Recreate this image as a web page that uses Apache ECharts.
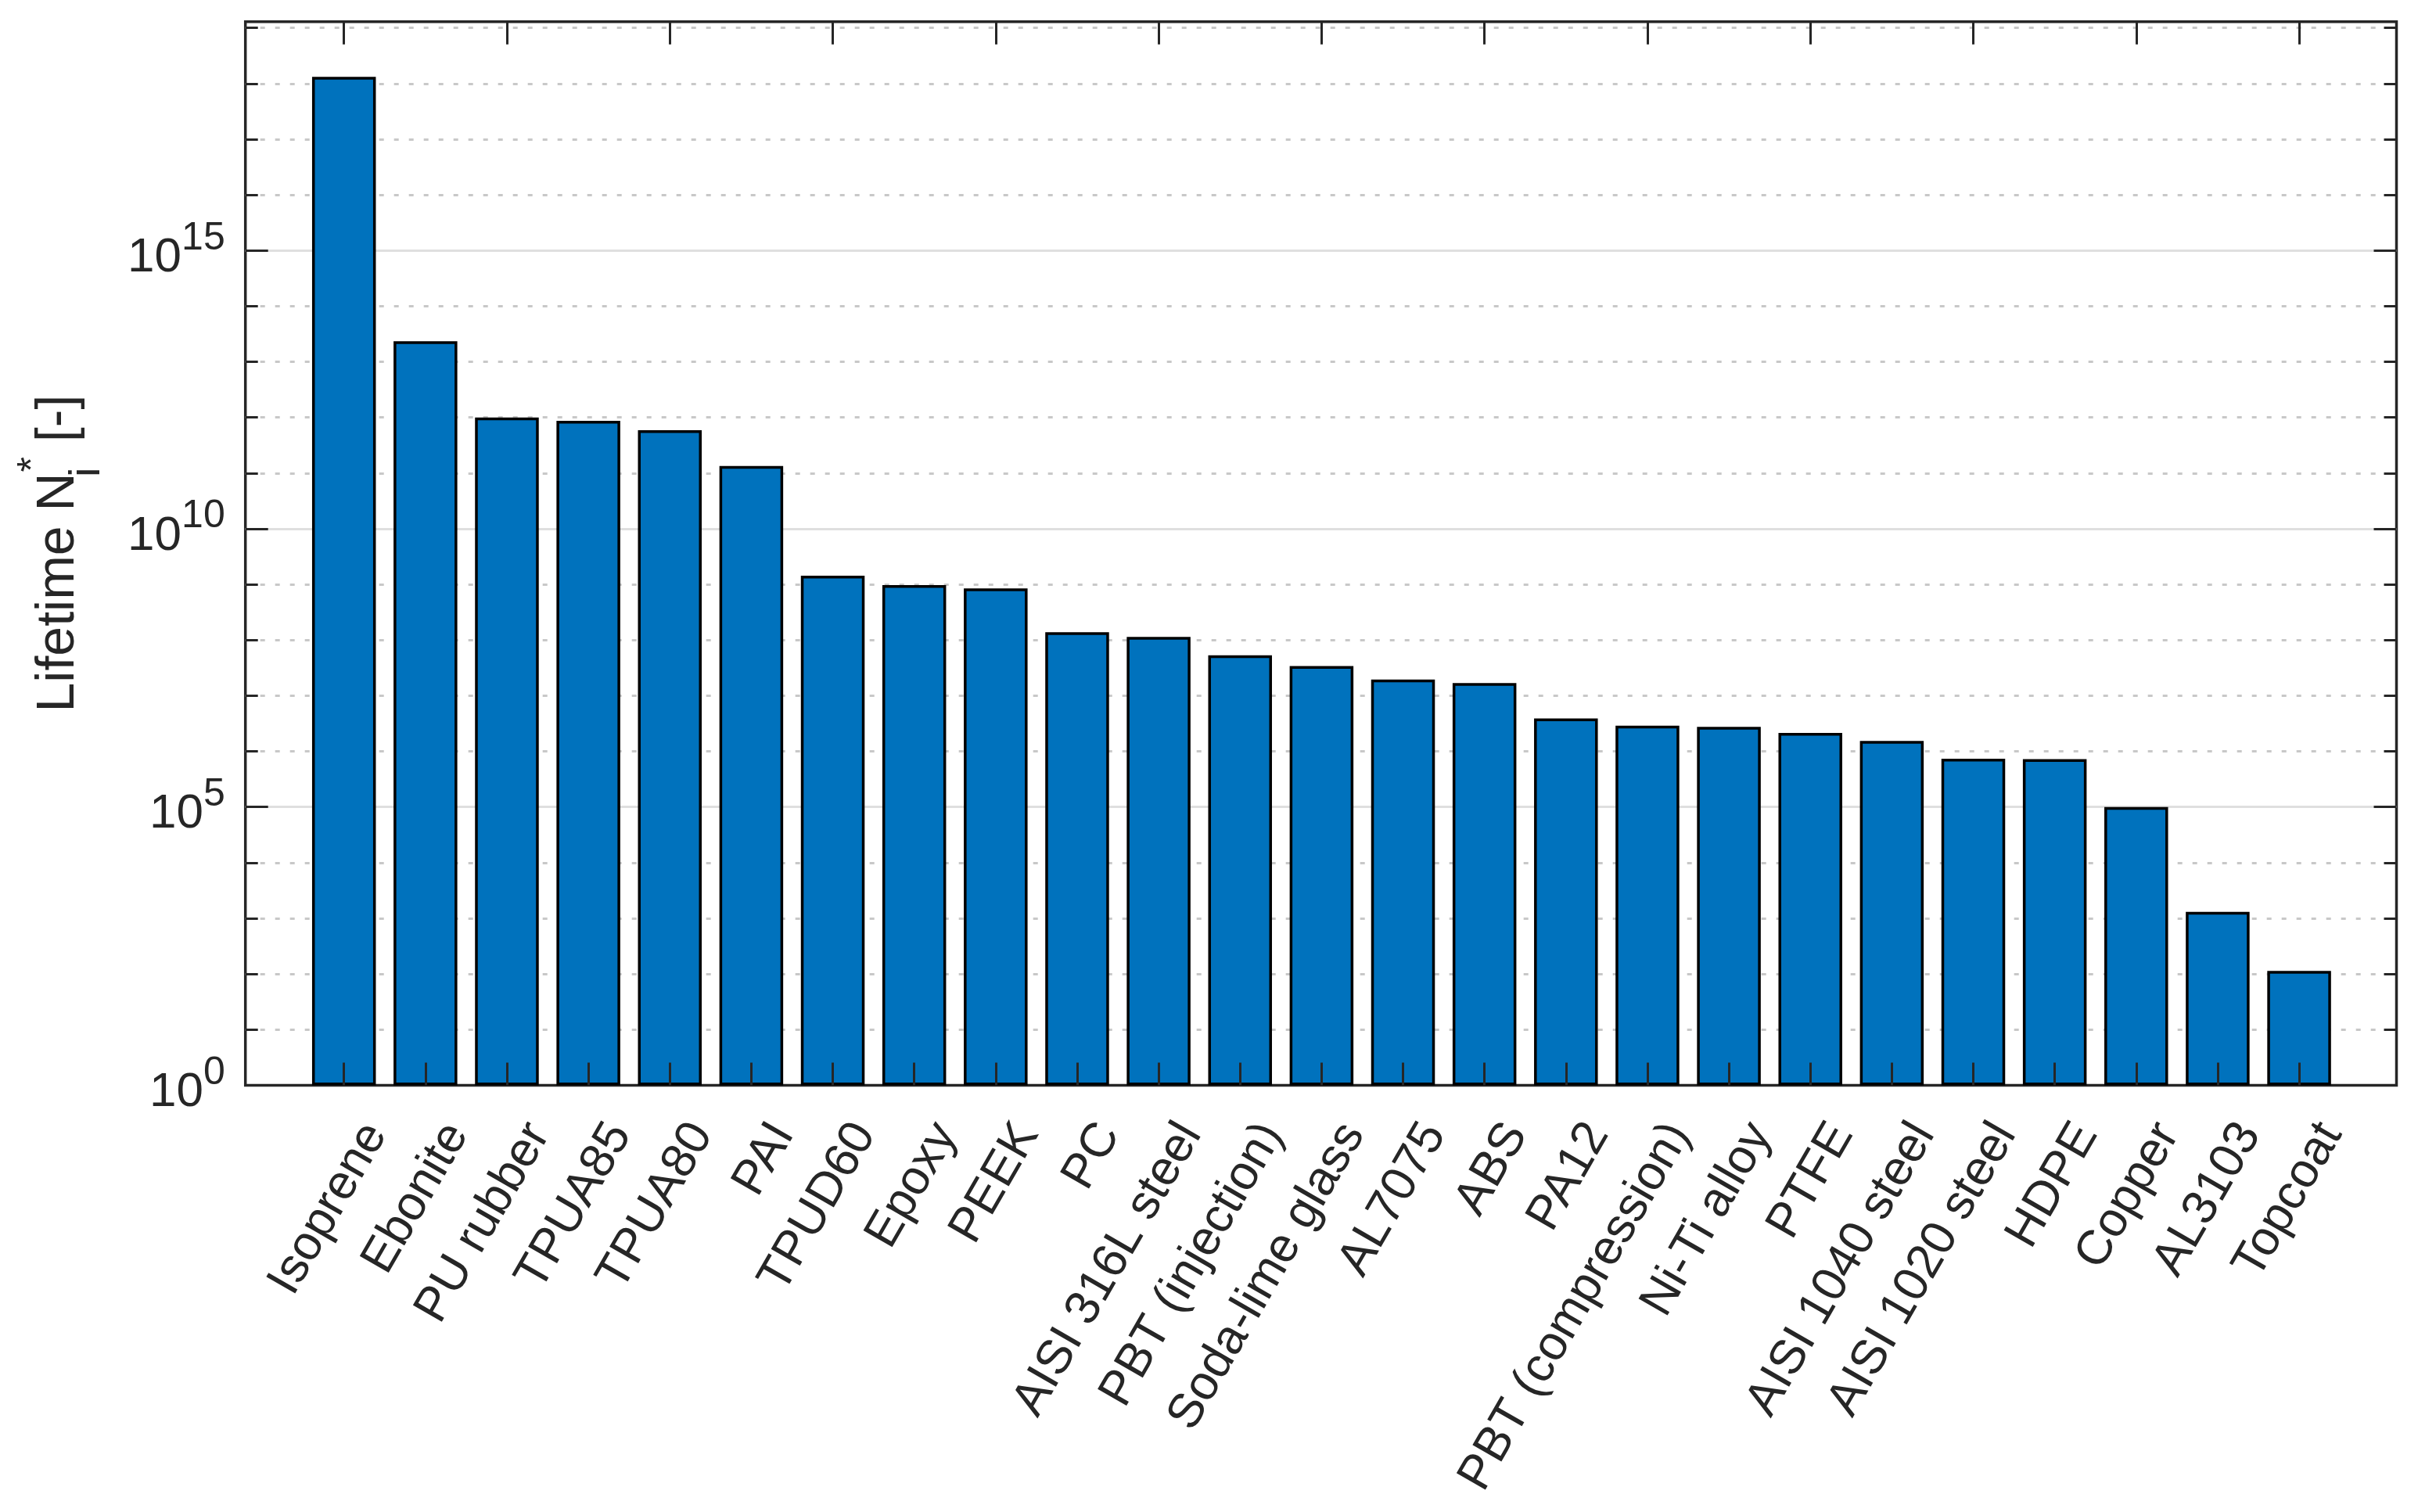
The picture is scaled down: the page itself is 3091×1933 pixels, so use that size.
<!DOCTYPE html>
<html>
<head>
<meta charset="utf-8">
<script src="https://cdn.jsdelivr.net/npm/echarts@6/dist/echarts.min.js"></script>
<style>
html,body{margin:0;padding:0;background:#fff;}
#chart{width:3091px;height:1933px;}
</style>
</head>
<body>
<div id="chart"></div>
<script>
// ---- data ----
var categories = ['Isoprene','Ebonite','PU rubber','TPUA85','TPUA80','PAI','TPUD60','Epoxy','PEEK','PC',
  'AISI 316L steel','PBT (injection)','Soda-lime glass','AL7075','ABS','PA12','PBT (compression)',
  'Ni-Ti alloy','PTFE','AISI 1040 steel','AISI 1020 steel','HDPE','Copper','AL3103','Topcoat'];
var lifetimes = [1.32e18, 2.35e13, 1.0e12, 8.7e11, 5.9e11, 1.34e11, 1.43e9, 9.7e8, 8.5e8, 1.38e8,
  1.14e8, 5.3e7, 3.4e7, 1.95e7, 1.68e7, 3.9e6, 2.9e6, 2.76e6, 2.15e6, 1.54e6,
  7.35e5, 7.25e5, 1.0e5, 1.31e3, 113];
var yTickExponents = [0, 5, 10, 15];
var yMinExp = 0, yMaxExp = 19.112;

// ---- chart ----
var TXT = '#262626';
var FONT = 'Liberation Sans';
var chart = echarts.init(document.getElementById('chart'), null, {renderer: 'canvas'});
var boxL = 313.7, boxT = 27.7, boxW = 2749.8, boxH = 1359.7;
var band = 104.14, n = categories.length;
var barL = 439.7 - band / 2;

var option = {
  backgroundColor: '#ffffff',
  animation: false,
  textStyle: {fontFamily: FONT, color: TXT},
  grid: [
    {left: barL, top: boxT, width: band * n, height: boxH, containLabel: false},
    {left: boxL, top: boxT, width: boxW, height: boxH, show: true, borderColor: TXT, borderWidth: 3.5, backgroundColor: 'transparent', containLabel: false}
  ],
  xAxis: [
    {type: 'category', gridIndex: 0, position: 'bottom', data: categories, z: 3,
     axisLine: {show: false},
     axisTick: {show: true, inside: true, length: 29, alignWithLabel: true, lineStyle: {color: TXT, width: 3}},
     axisLabel: {show: true, interval: 0, rotate: 60, align: 'right', verticalAlign: 'top', margin: 30,
       padding: [16, 0, 0, 0],
       fontSize: 62, fontFamily: FONT, color: TXT},
     splitLine: {show: false}},
    {type: 'category', gridIndex: 0, position: 'top', data: categories, z: 3,
     axisLine: {show: false},
     axisTick: {show: true, inside: true, length: 29, alignWithLabel: true, lineStyle: {color: TXT, width: 3}},
     axisLabel: {show: false}, splitLine: {show: false}},
    {type: 'value', gridIndex: 1, min: 0, max: 1, show: false}
  ],
  yAxis: [
    // minor decades: dotted grid + short ticks (left)
    {type: 'value', gridIndex: 1, position: 'left', min: yMinExp, max: yMaxExp, interval: 1, z: 0,
     axisLine: {show: false},
     axisTick: {show: true, inside: true, length: 16, lineStyle: {color: TXT, width: 3}},
     axisLabel: {show: false},
     splitLine: {show: true, showMinLine: false, showMaxLine: false,
       lineStyle: {color: '#c8c8c8', width: 3, type: [6, 13]}}},
    // major: solid grid + labels (left)
    {type: 'value', gridIndex: 1, position: 'left', min: yMinExp, max: yMaxExp, interval: 5, z: 1,
     name: '{a|Lifetime N}{sub|i}{sup|*}{a| [-]}',
     nameLocation: 'middle', nameRotate: 90, nameGap: 174,
     nameTextStyle: {
       fontFamily: FONT, color: TXT, fontSize: 68,
       rich: {
         a: {fontFamily: FONT, color: TXT, fontSize: 68, verticalAlign: 'bottom', padding: [0, 0, 30, 0]},
         sub: {fontFamily: FONT, color: TXT, fontSize: 56, verticalAlign: 'bottom', width: 1, align: 'left'},
         sup: {fontFamily: FONT, color: TXT, fontSize: 50, verticalAlign: 'bottom', padding: [0, 0, 71, 0]}
       }
     },
     axisLine: {show: false},
     axisTick: {show: true, inside: true, length: 29, lineStyle: {color: TXT, width: 3}},
     axisLabel: {show: true, margin: 26, showMaxLabel: false,
       formatter: function (v) {
         if (yTickExponents.indexOf(Math.round(v * 1000) / 1000) < 0) return '';
         return '{b|10}{s|' + Math.round(v) + '}';
       },
       rich: {
         b: {fontFamily: FONT, color: TXT, fontSize: 62, verticalAlign: 'bottom'},
         s: {fontFamily: FONT, color: TXT, fontSize: 50, verticalAlign: 'bottom', padding: [0, 0, 31, 0]}
       }},
     splitLine: {show: true, showMinLine: false, showMaxLine: false,
       lineStyle: {color: '#dfdfdf', width: 3, type: 'solid'}}},
    // right side ticks
    {type: 'value', gridIndex: 1, position: 'right', min: yMinExp, max: yMaxExp, interval: 1, z: 1,
     axisLine: {show: false},
     axisTick: {show: true, inside: true, length: 16, lineStyle: {color: TXT, width: 3}},
     axisLabel: {show: false}, splitLine: {show: false}},
    {type: 'value', gridIndex: 1, position: 'right', min: yMinExp, max: yMaxExp, interval: 5, z: 1,
     axisLine: {show: false},
     axisTick: {show: true, inside: true, length: 29, lineStyle: {color: TXT, width: 3}},
     axisLabel: {show: false}, splitLine: {show: false}},
    // bar value axis (exponent scale, same extent)
    {type: 'value', gridIndex: 0, min: yMinExp, max: yMaxExp, show: false}
  ],
  series: [{
    type: 'bar',
    xAxisIndex: 0,
    yAxisIndex: 4,
    data: lifetimes.map(function (v) { return Math.log10(v); }),
    barWidth: 81.5,
    itemStyle: {color: '#0072BD', borderColor: '#000000', borderWidth: 3.5},
    z: 2
  }]
};
chart.setOption(option);
</script>
</body>
</html>
